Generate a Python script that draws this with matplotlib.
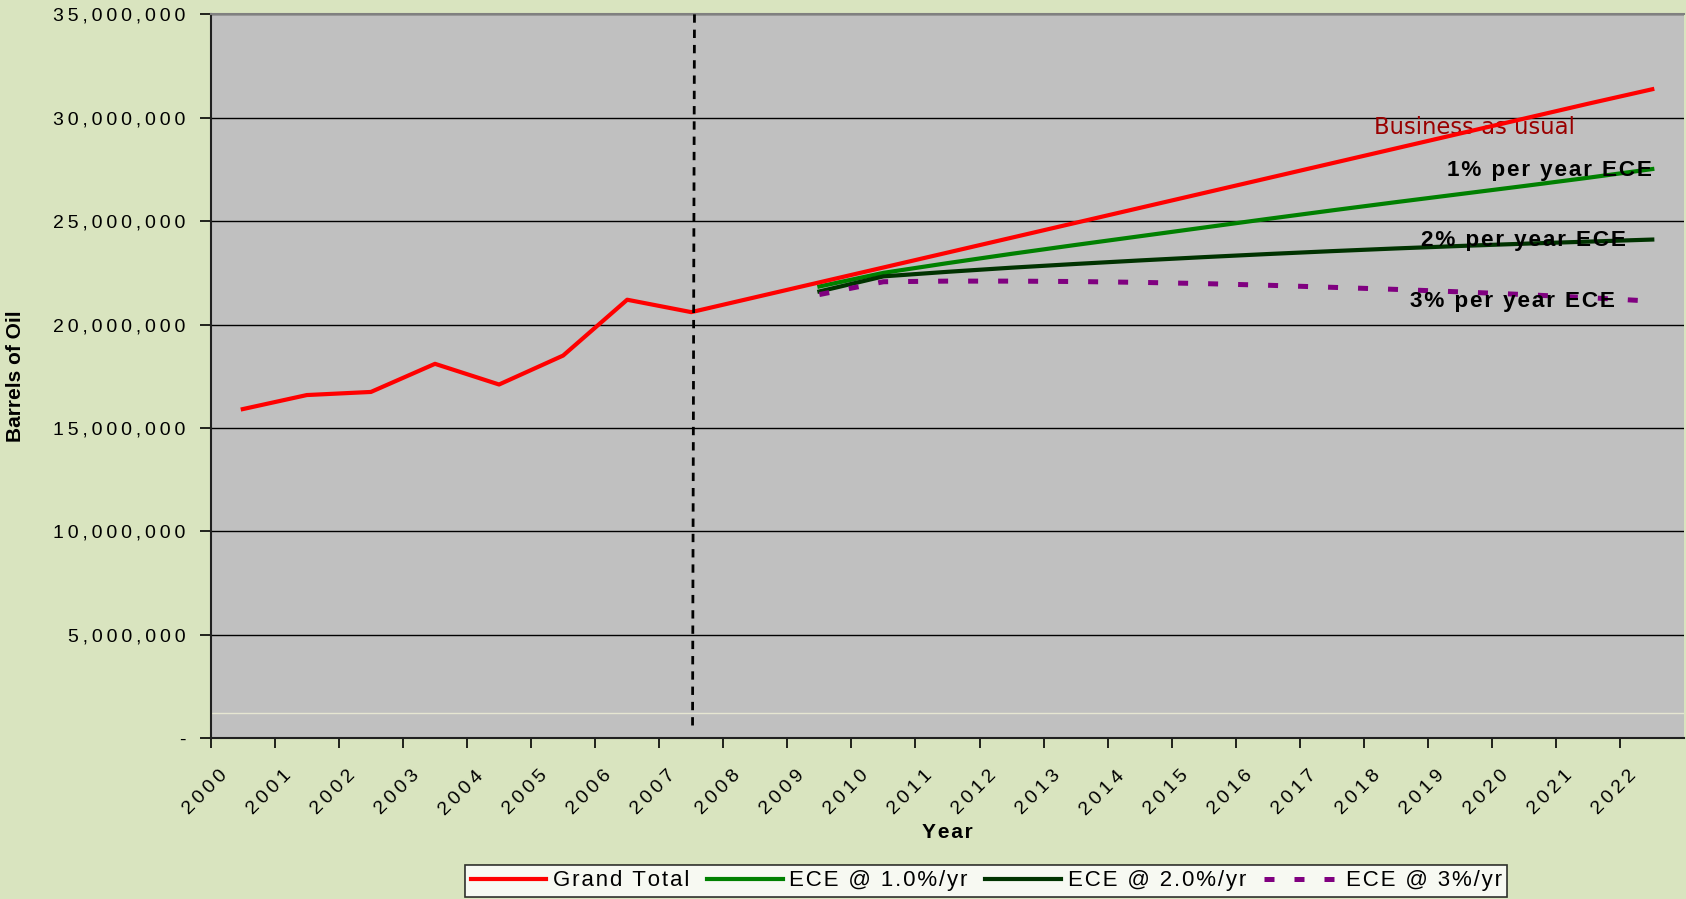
import numpy as np
import matplotlib
matplotlib.use("Agg")
import matplotlib.pyplot as plt
import matplotlib.transforms as mtransforms
from matplotlib.ticker import FuncFormatter

# Data (millions of barrels), one value per year, plotted mid-category
years = list(range(2000, 2023))
grand_total = [15.91, 16.59, 16.74, 18.10, 17.10, 18.50, 21.20, 20.60,
               21.32, 22.04, 22.76, 23.48, 24.20, 24.92, 25.64, 26.36,
               27.08, 27.80, 28.52, 29.24, 29.96, 30.68, 31.38]
ece_years = list(range(2009, 2023))
ece_1 = [21.84, 22.50, 22.97, 23.42, 23.85, 24.27, 24.69, 25.11,
         25.52, 25.92, 26.31, 26.70, 27.10, 27.52]
ece_2 = [21.60, 22.33, 22.55, 22.75, 22.93, 23.10, 23.26, 23.41,
         23.55, 23.68, 23.80, 23.91, 24.01, 24.11]
ece_3 = [21.45, 22.07, 22.10, 22.10, 22.08, 22.04, 21.98, 21.90,
         21.80, 21.70, 21.58, 21.45, 21.30, 21.13]
y_ticks = [0, 5, 10, 15, 20, 25, 30, 35]
divider_year = 2007.55

ARIAL = ['Liberation Sans', 'DejaVu Sans']


def spaced(s, sp='\u200a'):
    # mimic the wide letter spacing of the original
    return sp.join(s)


fig = plt.figure(figsize=(16.86, 8.99), dpi=100, facecolor='#D9E4BF')
ax = fig.add_axes([0.125, 0.179, 0.874, 0.805])
ax.set_facecolor('#C0C0C0')

pos = lambda yrs: np.array(yrs) - 2000 + 0.5
M = 1e6

ax.axhline(1.2 * M, color='#E6E6D2', lw=1, zorder=1)
for v in y_ticks[1:]:
    ax.axhline(v * M, color='black', lw=1, zorder=1)

ax.plot(pos(years), np.array(grand_total) * M, color='#FF0000', lw=3, zorder=4,
        label=spaced('Grand Total'))
ax.plot(pos(ece_years), np.array(ece_1) * M, color='#008000', lw=3, zorder=3,
        label=spaced('ECE @ 1.0%/yr'))
ax.plot(pos(ece_years), np.array(ece_2) * M, color='#003300', lw=3, zorder=3,
        label=spaced('ECE @ 2.0%/yr'))
ax.plot(pos(ece_years), np.array(ece_3) * M, color='#800080', lw=3.6, zorder=3,
        dashes=(2, 4), dash_capstyle='butt', label=spaced('ECE @ 3%/yr'))

ax.plot([divider_year - 2000, divider_year - 2000 - 0.03], [35 * M, 0.45 * M],
        color='black', lw=2, dashes=(3, 2.5), zorder=5)

ax.set_xlim(0, 23)
ax.set_ylim(0, 35 * M)
ax.set_xticks(range(23))
ax.set_xticklabels([spaced(str(y), '\u2009') for y in years], rotation=45,
                   ha='right', rotation_mode='anchor', fontsize=14, family=ARIAL)
ax.set_yticks([v * M for v in y_ticks])
ax.yaxis.set_major_formatter(FuncFormatter(
    lambda v, p: '-' if v == 0 else spaced(f'{int(round(v)):,}', '\u2009')))
ax.tick_params(axis='y', labelsize=14, length=8, width=1.2, pad=10)
ax.tick_params(axis='x', length=7, width=1.2, pad=14)
for lab in ax.get_yticklabels():
    lab.set_family(ARIAL)
# nudge the slanted year labels to the right, as in the original
shift = mtransforms.ScaledTranslation(8 / 100, 0, fig.dpi_scale_trans)
for lab in ax.get_xticklabels():
    lab.set_transform(lab.get_transform() + shift)

for s in ['left', 'bottom']:
    ax.spines[s].set_color('#202020')
    ax.spines[s].set_linewidth(1.5)
ax.spines['top'].set_color('#808080')
ax.spines['top'].set_linewidth(1.5)
ax.spines['right'].set_visible(False)

ax.set_xlabel(spaced('Year'), fontsize=15, fontweight='bold', family=ARIAL)
ax.xaxis.set_label_coords(0.5, -0.118)
ax.set_ylabel('Barrels of Oil', fontsize=15, fontweight='bold', family=ARIAL)
ax.yaxis.set_label_coords(-0.126, 0.5)

ax.text(19.73, 29.55 * M, 'Business as usual', color='#990000', fontsize=16.4,
        ha='center', va='center')
ax.text(22.49, 27.45 * M, spaced('1% per year ECE'), color='black', fontsize=16.2,
        fontweight='bold', ha='right', va='center', family=ARIAL)
ax.text(22.09, 24.07 * M, spaced('2% per year ECE'), color='black', fontsize=16.2,
        fontweight='bold', ha='right', va='center', family=ARIAL)
ax.text(21.91, 21.13 * M, spaced('3% per year ECE'), color='black', fontsize=16.2,
        fontweight='bold', ha='right', va='center', family=ARIAL)

leg = fig.legend(loc='lower center', bbox_to_anchor=(0.585, -0.01), ncol=4,
                 fontsize=16, frameon=True, fancybox=False, edgecolor='black',
                 handlelength=3.4, handletextpad=0.3, columnspacing=0.8,
                 borderpad=0.25, borderaxespad=0.5)
leg.get_frame().set_linewidth(1.2)
for t in leg.get_texts():
    t.set_family(ARIAL)

fig.savefig('out.png', dpi=100, facecolor=fig.get_facecolor())
